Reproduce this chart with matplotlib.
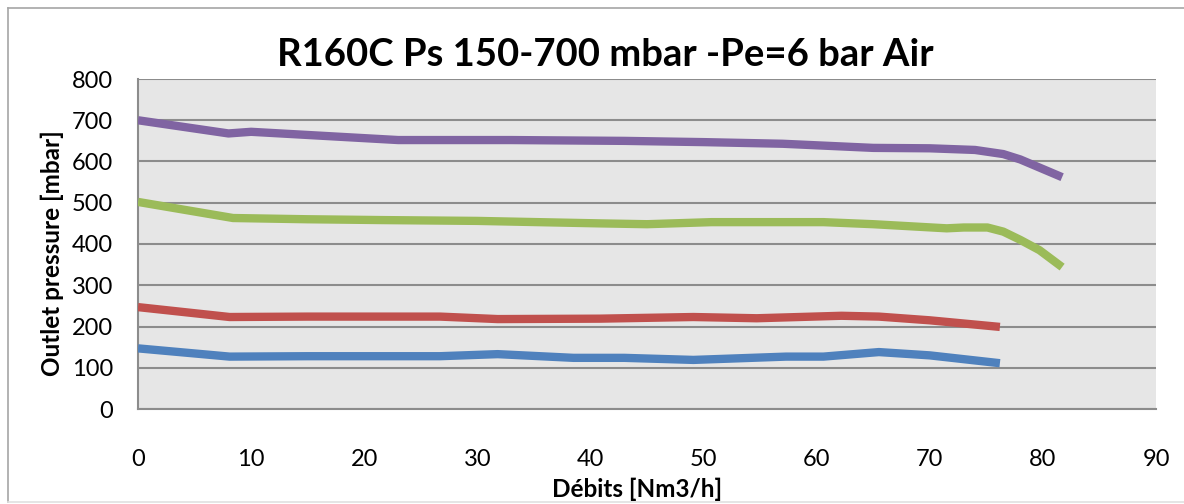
import matplotlib
matplotlib.use("Agg")
import matplotlib.pyplot as plt
from matplotlib.lines import Line2D

plt.rcParams['font.family'] = ['Lato', 'DejaVu Sans']

# flow [Nm3/h] and outlet pressure [mbar]
x_150 = [0, 8.1, 15, 26.7, 31.8, 38.5, 43, 49.1, 57.3, 60.6, 65.5, 70, 76.2]
y_150 = [147, 127, 128, 128, 133, 124, 124, 119, 127, 127, 138, 130, 111]

x_250 = [0, 8.1, 15, 26.7, 31.8, 40.8, 49.1, 54.7, 62.2, 65.5, 70, 76.2]
y_250 = [247, 223, 224, 224, 218, 219, 223, 220, 226, 224, 215, 199]

x_500 = [0, 8.4, 15, 21.6, 30, 40.8, 45, 50.7, 60.6, 65, 71.5, 73, 75.1, 76.5, 78, 79.7, 81.7]
y_500 = [502, 463, 460, 458, 456, 450, 448, 453, 453, 448, 438, 440, 440, 430, 410, 385, 344]

x_700 = [0, 8, 10, 23, 33, 43, 50, 57, 65, 70, 74, 76.5, 78, 81.7]
y_700 = [700, 668, 672, 652, 652, 650, 647, 643, 633, 632, 628, 618, 605, 562]

series = [
    (x_150, y_150, '#4F81BD'),
    (x_250, y_250, '#C0504D'),
    (x_500, y_500, '#9BBB59'),
    (x_700, y_700, '#8064A2'),
]

xticks = list(range(0, 91, 10))
yticks = list(range(0, 801, 100))

W, H = 1184, 504
fig = plt.figure(figsize=(W / 100, H / 100), dpi=100)
ax = fig.add_axes([138 / W, 1 - 409 / H, (1156 - 138) / W, (409 - 79) / H])
ax.set_facecolor('#e6e6e6')

for xs, ys, c in series:
    ax.plot(xs, ys, color=c, lw=6, solid_joinstyle='round', solid_capstyle='butt', zorder=3)

ax.set_xlim(0, 90)
ax.set_ylim(0, 800)
ax.set_xticks(xticks)
ax.set_yticks(yticks)
ax.tick_params(axis='x', length=0, pad=29, labelsize=17)
ax.tick_params(axis='y', length=0, pad=18, labelsize=17)
ax.grid(axis='y', color='#8c8c8c', lw=1.5, zorder=1)
for s in ['top', 'right']:
    ax.spines[s].set_visible(False)
for s in ['left', 'bottom']:
    ax.spines[s].set_color('#8c8c8c')
    ax.spines[s].set_linewidth(1.5)

fig.text(605 / W, 1 - 55 / H, 'R160C Ps 150-700 mbar -Pe=6 bar Air',
         ha='center', va='center', fontsize=27.5, fontweight='bold')
fig.text(52 / W, 1 - 253 / H, 'Outlet pressure [mbar]', rotation=90,
         ha='center', va='center', fontsize=17.5, fontweight='bold')
fig.text(637 / W, 1 - 489 / H, 'Débits [Nm3/h]',
         ha='center', va='center', fontsize=17.5, fontweight='bold')

# chart border
bc = '#a6a6a6'
fig.add_artist(Line2D([8 / W, 8 / W], [1 - 8 / H, 1 - 502 / H], color=bc, lw=1.2))
fig.add_artist(Line2D([8 / W, 1], [1 - 8 / H, 1 - 8 / H], color=bc, lw=1.2))
fig.add_artist(Line2D([8 / W, 1], [1 - 502 / H, 1 - 502 / H], color='#e0e0e0', lw=1.2))

fig.savefig('out.png', dpi=100)
